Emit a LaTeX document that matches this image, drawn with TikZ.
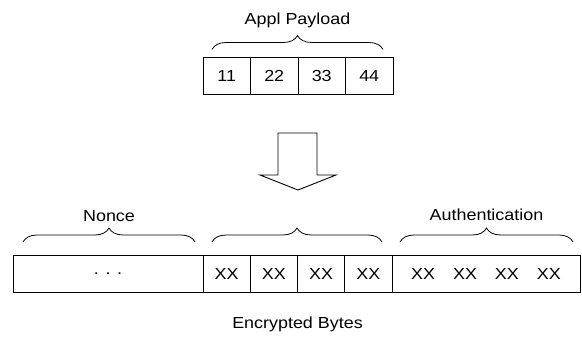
\documentclass[tikz,border=0pt]{standalone}
\usepackage{fontspec}
\setmainfont{Liberation Sans}[FakeStretch=1.12]
\usetikzlibrary{positioning,decorations.pathreplacing}

\begin{document}
\begin{tikzpicture}[x=1pt, y=-1pt, line width=0.9pt,
  every node/.style={font=\fontsize{16}{19}\selectfont},
  cell/.style={draw, minimum width=47.5pt, minimum height=37pt, inner sep=0pt, outer sep=0pt},
  brc/.style={decorate, decoration={brace, amplitude=14pt}, line width=0.8pt}]
  \useasboundingbox (0,0) rectangle (582,339);
  \node[cell] (p1) at (226.75,76) {11};
  \node[cell, right=0pt of p1] (p2) {22};
  \node[cell, right=0pt of p2] (p3) {33};
  \node[cell, right=0pt of p3] (p4) {44};
  \draw[brc] ([xshift=9pt,yshift=8pt]p1.north west) -- ([xshift=-10pt,yshift=8pt]p4.north east)
    node[midway, anchor=base, yshift=25pt] (appl) {Appl Payload};
  \draw (278,133) -- (278,175) -- (260,175) -- (298,190) -- (336,175) -- (317,175) -- (317,133) -- cycle;
  \node[cell, minimum width=190pt] (nonce) at (108,273.5) {. . .};
  \node[cell, minimum width=47.25pt, right=0pt of nonce] (x1) {XX};
  \node[cell, minimum width=47.25pt, right=0pt of x1] (x2) {XX};
  \node[cell, minimum width=47.25pt, right=0pt of x2] (x3) {XX};
  \node[cell, minimum width=47.25pt, right=0pt of x3] (x4) {XX};
  \node[cell, minimum width=188pt, right=0pt of x4] (auth) {XX\hspace{18pt}XX\hspace{18pt}XX\hspace{18pt}XX};
  \draw[brc] ([xshift=10pt,yshift=13pt]nonce.north west) -- ([xshift=-8pt,yshift=13pt]nonce.north east)
    node[midway, anchor=base, yshift=20pt] (lnonce) {Nonce};
  \draw[brc] ([xshift=9pt,yshift=13pt]x1.north west) -- ([xshift=-10pt,yshift=13pt]x4.north east);
  \draw[brc] ([xshift=8pt,yshift=13pt]auth.north west) -- ([xshift=-7pt,yshift=13pt]auth.north east)
    node[midway, anchor=base, yshift=21pt] (lauth) {Authentication};
  \node[anchor=base] (enc) at (297.5,329) {Encrypted Bytes};
\end{tikzpicture}
\end{document}
